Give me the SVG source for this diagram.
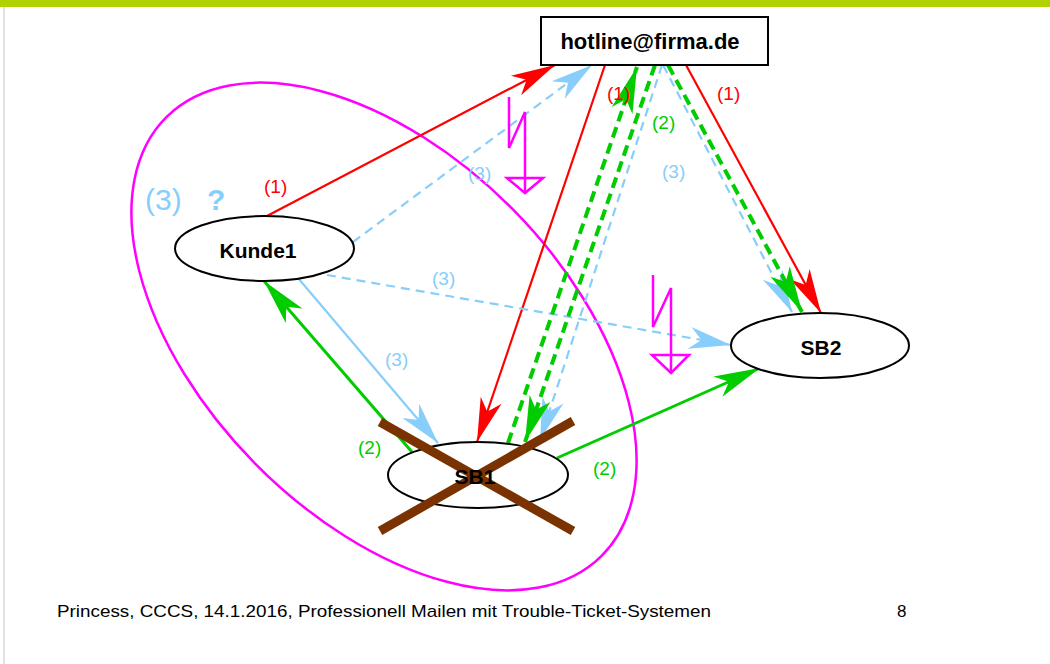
<svg xmlns="http://www.w3.org/2000/svg" width="1050" height="664" viewBox="0 0 1050 664">
<style>
.lbl{font-family:"Liberation Sans",Arial,sans-serif;font-size:19px}
.node{font-family:"Liberation Sans",Arial,sans-serif;font-weight:bold;text-anchor:middle}
.red{stroke:#ff0000;stroke-width:2.2;fill:none}
.grn{stroke:#00cc00;stroke-width:3;fill:none}
.grnd{stroke:#00cc00;stroke-width:4;fill:none;stroke-dasharray:11 6}
.blu{stroke:#87cefa;stroke-width:2.2;fill:none}
.blud{stroke:#87cefa;stroke-width:2.2;fill:none;stroke-dasharray:9 6}
.mag{stroke:#ff00ff;stroke-width:2.5;fill:none}
.ell{fill:#ffffff;stroke:#000000;stroke-width:2}
</style>
<defs>
<marker id="aR" viewBox="-46 -13 48 26" markerWidth="48" markerHeight="26" refX="0" refY="0" orient="auto" markerUnits="userSpaceOnUse" overflow="visible"><path d="M0,0 L-44,-11 L-32,0 L-44,11 Z" fill="#ff0000"/></marker>
<marker id="aG" viewBox="-48 -13 50 26" markerWidth="50" markerHeight="26" refX="0" refY="0" orient="auto" markerUnits="userSpaceOnUse" overflow="visible"><path d="M0,0 L-46,-11 L-34,0 L-46,11 Z" fill="#00cc00"/></marker>
<marker id="aB" viewBox="-46 -13 48 26" markerWidth="48" markerHeight="26" refX="0" refY="0" orient="auto" markerUnits="userSpaceOnUse" overflow="visible"><path d="M0,0 L-42,-11 L-30,0 L-42,11 Z" fill="#87cefa"/></marker>
</defs>
<rect x="0" y="0" width="1050" height="664" fill="#ffffff"/>
<rect x="0" y="0" width="1050" height="7" fill="#b2d200"/>
<line x1="4" y1="7" x2="4" y2="664" stroke="#d8d8d8" stroke-width="1.5"/>

<g id="group-ellipse">
<ellipse class="mag" cx="384" cy="336.5" rx="309" ry="181" transform="rotate(45.3 384 336.5)"/>
</g>

<g id="connectors">
<path class="blud" d="M662,65 L540,440" marker-end="url(#aB)"/>
<path class="red" d="M267,216 L555,65" marker-end="url(#aR)"/>
<path class="red" d="M605,65 L477,442" marker-end="url(#aR)"/>
<path class="red" d="M686,65 L821,313" marker-end="url(#aR)"/>
<path class="blud" d="M353,242 L592,65" marker-end="url(#aB)"/>
<path class="blud" d="M327,275 L731,345" marker-end="url(#aB)"/>
<path class="blu" d="M298,278 L438,443" marker-end="url(#aB)"/>
<path class="blud" d="M663,65 L792,312" marker-end="url(#aB)"/>
<path class="grn" d="M412,452 L264,281" marker-end="url(#aG)"/>
<path class="grn" d="M557,458 L760,368" marker-end="url(#aG)"/>
<path class="grnd" d="M508,443 L637,67" marker-end="url(#aG)"/>
<path class="grnd" d="M655,65 L525,442" marker-end="url(#aG)"/>
<path class="grnd" d="M668,65 L802,312" marker-end="url(#aG)"/>
</g>

<g id="labels">
<text class="lbl" x="264" y="193" fill="#ff0000">(1)</text>
<text class="lbl" x="607" y="100" fill="#ff0000">(1)</text>
<text class="lbl" x="717" y="100" fill="#ff0000">(1)</text>
<text class="lbl" x="652" y="129" fill="#00cc00">(2)</text>
<text class="lbl" x="662" y="178" fill="#87cefa">(3)</text>
<text class="lbl" x="468" y="180" fill="#87cefa">(3)</text>
<text class="lbl" x="432" y="285" fill="#87cefa">(3)</text>
<text class="lbl" x="385" y="366" fill="#87cefa">(3)</text>
<text class="lbl" x="358" y="454" fill="#00cc00">(2)</text>
<text class="lbl" x="593" y="475" fill="#00cc00">(2)</text>
<text x="145" y="210" font-family="Liberation Sans, Arial, sans-serif" font-size="30" fill="#87cefa">(3)</text>
<text x="207" y="210" font-family="Liberation Sans, Arial, sans-serif" font-size="30" font-weight="bold" fill="#87cefa">?</text>
</g>

<g id="bolt1">
<path class="mag" d="M509,97 L509,148 L525,112 L525,193"/>
<path class="mag" d="M507,178 L543,178 L525,193 Z"/>
</g>
<g id="bolt2">
<path class="mag" d="M653,275 L653,327 L671,288 L671,373"/>
<path class="mag" d="M652,355 L689,355 L671,373 Z"/>
</g>

<g id="hotline">
<rect x="541" y="17" width="227" height="48" fill="#ffffff" stroke="#000000" stroke-width="2"/>
<text class="node" x="650" y="49" font-size="22">hotline@firma.de</text>
</g>
<g id="kunde1">
<ellipse class="ell" cx="264.5" cy="248.5" rx="89.5" ry="32.5"/>
<text class="node" x="258" y="258" font-size="21">Kunde1</text>
</g>
<g id="sb2">
<ellipse class="ell" cx="820" cy="345.5" rx="89" ry="32.5"/>
<text class="node" x="821" y="355" font-size="21">SB2</text>
</g>
<g id="sb1">
<ellipse class="ell" cx="478" cy="475" rx="90" ry="33"/>
<line x1="380" y1="422" x2="573" y2="531" stroke="#7a3300" stroke-width="9"/>
<line x1="380" y1="531" x2="573" y2="421" stroke="#7a3300" stroke-width="9"/>
<text class="node" x="475" y="484" font-size="21">SB1</text>
</g>

<g id="footer">
<text x="57" y="617" font-family="Liberation Sans, Arial, sans-serif" font-size="17" textLength="654" lengthAdjust="spacingAndGlyphs" fill="#000000">Princess, CCCS, 14.1.2016, Professionell Mailen mit Trouble-Ticket-Systemen</text>
<text x="897" y="617" font-family="Liberation Sans, Arial, sans-serif" font-size="17" fill="#000000">8</text>
</g>
</svg>
